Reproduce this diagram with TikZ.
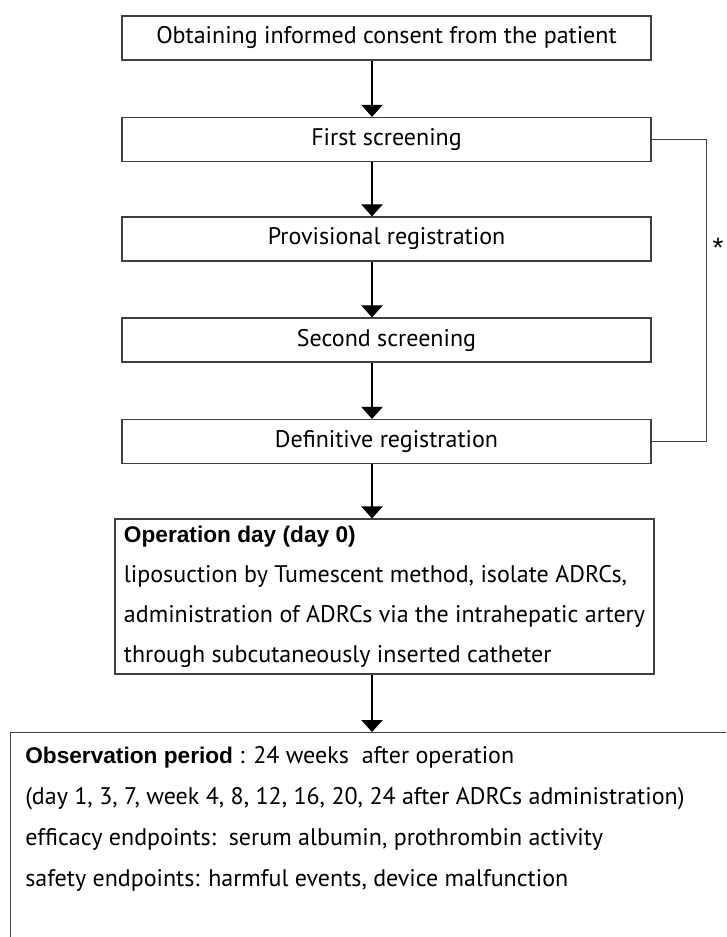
\documentclass[tikz,border=0pt]{standalone}
\usepackage{fontspec}
\setmainfont{PT Sans}
\newfontfamily\headfont{Liberation Sans}
\usetikzlibrary{arrows.meta}
\tikzset{
  stepbox/.style={draw=black!75, line width=0.9pt, minimum width=396.75pt, minimum height=33pt, inner sep=0pt, font=\fontsize{18}{20}\selectfont},
  flow/.style={-{Triangle[width=16pt,length=9pt]}, line width=0.9pt}
}
\begin{document}
\begin{tikzpicture}[x=0.75pt,y=-0.75pt]
        \clip (0,0) rectangle (726,937);
        \coordinate (spine) at (372,0);
        \node[stepbox] (consent) at (386.5,38) {Obtaining informed consent from the patient};
        \node[stepbox] (first) at (386.5,139.5) {First screening};
        \node[stepbox] (provreg) at (386.5,239) {Provisional registration};
        \node[stepbox] (second) at (386.5,340) {Second screening};
        \node[stepbox] (defreg) at (386.5,441.5) {Definitive registration};
        \node[stepbox, minimum width=404.25pt, minimum height=116.25pt, align=left, font=\fontsize{18}{30}\selectfont] (opday) at (384.5,596.5)
            {{\headfont\bfseries\fontsize{17}{30}\selectfont Operation day (day 0)}\\
             liposuction by Tumescent method, isolate ADRCs,\\
             administration of ADRCs via the intrahepatic artery\\
             through subcutaneously inserted catheter};
        \node[stepbox, anchor=north west, minimum width=600pt, minimum height=225pt] (obsbox) at (10,732) {};
        \node[anchor=north west, inner sep=0pt, align=left, font=\fontsize{18}{30.75}\selectfont] (obstext) at (25,746)
            {{\headfont\bfseries\fontsize{17}{30.75}\selectfont Observation period} : 24 weeks\ \ after operation\\
             (day 1, 3, 7, week 4, 8, 12, 16, 20, 24 after ADRCs administration)\\
             efficacy endpoints:\ \ serum albumin, prothrombin activity\\
             safety endpoints: harmful events, device malfunction};
        % main flow
        \draw[flow] (consent.south -| spine) -- (first.north -| spine);
        \draw[flow] (first.south -| spine) -- (provreg.north -| spine);
        \draw[flow] (provreg.south -| spine) -- (second.north -| spine);
        \draw[flow] (second.south -| spine) -- (defreg.north -| spine);
        \draw[flow] (defreg.south -| spine) -- (opday.north -| spine);
        \draw[flow] (opday.south -| spine) -- (obsbox.north -| spine);
        % loop back
        \draw[draw=black!75, line width=0.9pt] (first.east) -- ++(55,0) |- node (star) [pos=0.17, right, inner sep=1pt, xshift=3pt, yshift=-4pt, font=\headfont\fontsize{21}{21}\selectfont] {*} (defreg.east);
\end{tikzpicture}
\end{document}
